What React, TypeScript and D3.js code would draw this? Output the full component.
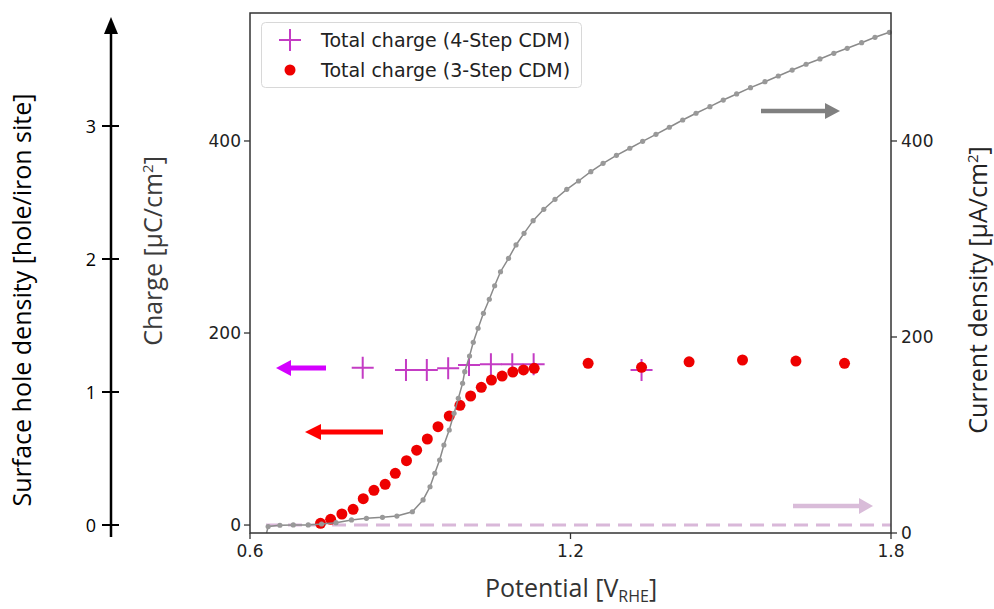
import React from "react";
import * as d3 from "d3";

// ---- Data ----
const potential3 = [0.732, 0.751, 0.772, 0.793, 0.812, 0.832, 0.853, 0.872, 0.893, 0.912, 0.932, 0.952, 0.973, 0.993, 1.013, 1.033, 1.052, 1.072, 1.092, 1.112, 1.132, 1.233, 1.333, 1.422, 1.522, 1.622, 1.713];
const charge3 = [1.8, 5.9, 11.5, 16.4, 27.4, 36.1, 42.4, 53.9, 67, 78, 89.6, 102.4, 113.5, 124.7, 134.4, 143.4, 151, 155.2, 159.4, 161.5, 163.2, 168.4, 164.3, 170, 171.9, 170.8, 168.4];

const potential4 = [0.811, 0.892, 0.931, 0.971, 1.01, 1.051, 1.091, 1.131, 1.333];
const charge4 = [163.9, 161.5, 161.5, 163.2, 166.7, 167.4, 167.4, 167.4, 161.5];

const potentialJ = [0.631, 0.634, 0.656, 0.681, 0.709, 0.734, 0.761, 0.79, 0.818, 0.848, 0.875, 0.904, 0.924, 0.937, 0.946, 0.955, 0.963, 0.973, 0.982, 0.99, 0.998, 1.002, 1.011, 1.018, 1.027, 1.037, 1.048, 1.058, 1.069, 1.084, 1.098, 1.113, 1.13, 1.15, 1.171, 1.193, 1.215, 1.238, 1.261, 1.286, 1.311, 1.335, 1.36, 1.385, 1.41, 1.435, 1.461, 1.486, 1.511, 1.537, 1.564, 1.589, 1.615, 1.641, 1.667, 1.693, 1.718, 1.745, 1.77, 1.797];
const currentJ = [0, 6.6, 7.9, 8.2, 8.2, 9.2, 10.5, 13.3, 15.0, 16.0, 17.3, 21.7, 33.7, 47.2, 60.9, 74.5, 89.8, 105.1, 122.1, 137.4, 152.8, 164.6, 180.6, 194.6, 208.9, 224.2, 238.5, 252.3, 266.6, 280.3, 293.9, 305.8, 318.7, 330.3, 340.5, 350.7, 359.2, 368.7, 377.2, 385.4, 392.6, 399.7, 406.8, 414.0, 421.4, 428.3, 435.0, 441.8, 448.0, 454.4, 460.5, 466.3, 472.4, 478.3, 483.7, 489.5, 494.6, 500.3, 505.8, 510.9];

const xTicks = [0.6, 1.2, 1.8];
const chargeTicks = [0, 200, 400];
const currentTicks = [0, 200, 400];
const holeTicks = [0, 1, 2, 3];
const legendLabels = ["Total charge (4-Step CDM)", "Total charge (3-Step CDM)"];

// ---- Layout ----
const W = 994, H = 609;
const L = 250, R = 891, T = 13, B = 533;

const x = d3.scaleLinear().domain([0.6, 1.8]).range([L, R]);
const yC = d3.scaleLinear().domain([-8.3, 533.3]).range([B, T]);
const yJ = d3.scaleLinear().domain([0, 530.6]).range([B, T]);
const yH = d3.scaleLinear().domain([0, 3]).range([525, 126]);

const MPL = "'DejaVu Sans', sans-serif";
const CAL = "'Open Sans', sans-serif";
const PLUS_COLOR = "#c43cc4";
const RED = "#ee0000";
const LABEL_SIZE = 25;

function Arrow({ x1, x2, y, color, w = 5, head = 16, hh = 8 }: any) {
  const dir = x2 > x1 ? 1 : -1;
  const base = x2 - dir * head;
  return (
    <g>
      <line x1={x1} x2={base} y1={y} y2={y} stroke={color} strokeWidth={w} />
      <path d={`M${x2},${y} L${base},${y - hh} L${base},${y + hh} Z`} fill={color} />
    </g>
  );
}

export default function App() {
  const jLine = d3
    .line<number>()
    .x((_, i) => x(potentialJ[i]))
    .y((d) => yJ(d))(currentJ);

  const plus = (cx: number, cy: number, s: number, key: any) => (
    <path key={key} d={`M${cx - s},${cy} H${cx + s} M${cx},${cy - s} V${cy + s}`} stroke={PLUS_COLOR} strokeWidth={2} fill="none" />
  );

  return (
    <div style={{ position: "absolute", left: 0, top: 0 }}>
      <svg width={W} height={H} style={{ display: "block", background: "#fff" }}>
        {/* far-left hole density axis */}
        <g>
          <line x1={111} x2={111} y1={30} y2={537} stroke="#000" strokeWidth={2.5} />
          <path d="M111,17 L104,34 L118,34 Z" fill="#000" />
          {holeTicks.map((t) => (
            <g key={t}>
              <line x1={102} x2={119} y1={yH(t)} y2={yH(t)} stroke="#000" strokeWidth={2} />
              <text x={96} y={yH(t)} textAnchor="end" dominantBaseline="central" fontFamily={CAL} fontSize={18} fill="#000">
                {t}
              </text>
            </g>
          ))}
          <text transform={`translate(31,300) rotate(-90)`} textAnchor="middle" fontFamily={CAL} fontSize={LABEL_SIZE} fill="#000">
            Surface hole density [hole/iron site]
          </text>
        </g>

        {/* axis labels */}
        <text transform={`translate(162,251) rotate(-90)`} textAnchor="middle" fontFamily={CAL} fontSize={LABEL_SIZE} fill="#3a3a3a">
          Charge [μC/cm<tspan dy={-9} fontSize={15}>2</tspan><tspan dy={9}>]</tspan>
        </text>
        <text transform={`translate(987,290) rotate(-90)`} textAnchor="middle" fontFamily={CAL} fontSize={LABEL_SIZE} fill="#222">
          Current density [μA/cm<tspan dy={-9} fontSize={15}>2</tspan><tspan dy={9}>]</tspan>
        </text>
        <text x={571} y={597} textAnchor="middle" fontFamily={CAL} fontSize={LABEL_SIZE} fill="#333">
          Potential [V<tspan dy={5} fontSize={16}>RHE</tspan><tspan dy={-5}>]</tspan>
        </text>

        {/* dashed zero line */}
        <line x1={x(0.63)} x2={R} y1={yC(0)} y2={yC(0)} stroke="#d9b8d9" strokeWidth={3} strokeDasharray="14,8" />

        {/* 4-step pluses */}
        {potential4.map((p, i) => plus(x(p), yC(charge4[i]), 11, "p" + i))}

        {/* 3-step dots */}
        {potential3.map((p, i) => (
          <circle key={"d" + i} cx={x(p)} cy={yC(charge3[i])} r={5.5} fill={RED} />
        ))}

        {/* current density curve */}
        <path d={jLine || ""} fill="none" stroke="#8a8a8a" strokeWidth={1.5} />
        {potentialJ.slice(1).map((p, i) => (
          <circle key={"j" + i} cx={x(p)} cy={yJ(currentJ[i + 1])} r={2.6} fill="#999" />
        ))}

        {/* arrows */}
        <Arrow x1={326} x2={276} y={368} color="#d400ff" w={5} head={15} hh={8} />
        <Arrow x1={383} x2={305} y={432} color="#ff0000" w={5} head={16} hh={8} />
        <Arrow x1={761} x2={840} y={111} color="#808080" w={4.5} head={15} hh={8} />
        <Arrow x1={793} x2={873} y={506} color="#d9bcd9" w={4.5} head={14} hh={8} />

        {/* legend */}
        <rect x={261.5} y={22.5} width={320} height={65} rx={4} fill="#fff" fillOpacity={0.85} stroke="#d8d8d8" strokeWidth={1} />
        {plus(290, 40, 11, "lp")}
        <circle cx={290} cy={70} r={5.5} fill={RED} />
        {legendLabels.map((s, i) => (
          <text key={s} x={321} y={40 + i * 30} dominantBaseline="central" fontFamily={MPL} fontSize={19} fill="#222">
            {s}
          </text>
        ))}

        {/* frame */}
        <rect x={L} y={T} width={R - L} height={B - T} fill="none" stroke="#333" strokeWidth={1.5} />

        {/* left ticks */}
        {chargeTicks.map((t) => (
          <g key={"c" + t}>
            <line x1={L - 6} x2={L} y1={yC(t)} y2={yC(t)} stroke="#333" strokeWidth={1.3} />
            <text x={L - 9} y={yC(t)} textAnchor="end" dominantBaseline="central" fontFamily={MPL} fontSize={17} fill="#222">
              {t}
            </text>
          </g>
        ))}
        {/* right ticks */}
        {currentTicks.map((t) => (
          <g key={"r" + t}>
            <line x1={R} x2={R + 6} y1={yJ(t)} y2={yJ(t)} stroke="#333" strokeWidth={1.3} />
            <text x={R + 10} y={yJ(t)} dominantBaseline="central" fontFamily={MPL} fontSize={17} fill="#222">
              {t}
            </text>
          </g>
        ))}
        {/* bottom ticks */}
        {xTicks.map((t) => (
          <g key={"x" + t}>
            <line x1={x(t)} x2={x(t)} y1={B} y2={B + 6} stroke="#333" strokeWidth={1.3} />
            <text x={x(t)} y={B + 18} textAnchor="middle" dominantBaseline="central" fontFamily={MPL} fontSize={17} fill="#222">
              {t.toFixed(1)}
            </text>
          </g>
        ))}
      </svg>
    </div>
  );
}
